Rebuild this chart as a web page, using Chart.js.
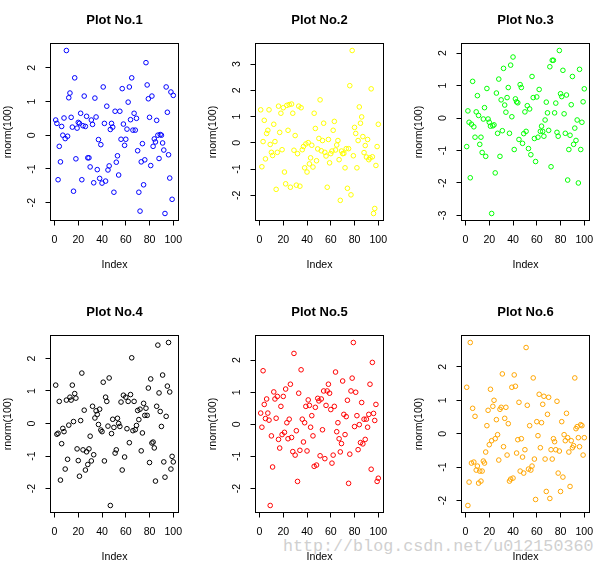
<!DOCTYPE html>
<html>
<head>
<meta charset="utf-8">
<script src="https://cdn.jsdelivr.net/npm/chart.js@4/dist/chart.umd.min.js"></script>
<style>
  body { margin: 0; width: 605px; height: 566px; overflow: hidden; background: #fff; position: relative; }
  canvas { position: absolute; }
  #mark { position: absolute; left: 283px; top: 538px; font: 16.7px "Liberation Mono"; line-height: 17px; color: #d0d0d0; white-space: nowrap; }
</style>
</head>
<body>
<div id="mark">http://blog.csdn.net/u012150360</div>
<script>
const titles = ["Plot No.1", "Plot No.2", "Plot No.3", "Plot No.4", "Plot No.5", "Plot No.6"];
const colors = ["#0000ff", "#ffff00", "#00ff00", "#000000", "#ff0000", "#ffa500"];
const xTicks = [0, 20, 40, 60, 80, 100];
const yTicks1 = [-2, -1, 0, 1, 2];
const yTicks2 = [-2, -1, 0, 1, 2, 3];
const yTicks3 = [-3, -2, -1, 0, 1, 2];
const yTicks4 = [-2, -1, 0, 1, 2];
const yTicks5 = [-2, -1, 0, 1, 2];
const yTicks6 = [-2, -1, 0, 1, 2];

// rnorm(100) values, in Index order
const plot1 = [0.45,0.35,-1.32,-0.33,-0.79,0.26,0.0,0.51,-0.10,2.51,
  -0.03,1.11,1.25,0.53,0.24,-1.66,1.70,-0.70,0.21,0.38,
  0.35,0.65,-1.32,0.28,1.16,0.26,0.56,-0.67,-0.67,-0.94,
  0.45,0.32,-1.41,1.10,0.54,-1.02,-0.13,-1.28,-0.28,-1.42,
  1.43,0.35,-1.36,0.86,-1.03,-0.91,0.17,0.35,0.24,-1.69,
  0.71,-0.80,-0.61,-1.18,0.71,-0.12,1.38,0.33,-0.30,-0.12,
  0.18,0.98,1.43,0.46,1.70,0.15,0.65,0.15,0.50,-0.46,
  -1.69,-2.25,-0.79,-0.25,-1.47,-0.73,2.15,1.49,1.08,0.53,
  -0.90,1.16,-0.33,-0.11,-0.20,0.44,0.0,-0.69,0.02,0.0,
  -0.23,-0.44,-2.32,1.43,0.68,-0.58,-1.27,1.28,-1.90,1.18];
const plot2 = [1.26,-0.91,0.05,0.86,-0.61,0.36,0.48,1.26,-0.06,-0.36,
  -0.48,0.71,0.05,-1.77,-0.36,1.40,0.40,1.13,-0.26,1.34,
  -1.11,-1.56,1.43,0.48,1.46,-1.69,1.48,1.13,-0.28,0.28,
  -1.61,-0.41,1.40,-1.65,1.34,-0.26,-0.14,-0.95,-0.04,-1.11,
  0.01,-0.80,-0.57,-0.09,-0.92,1.13,0.55,-0.68,-0.23,0.17,
  1.64,-0.30,0.09,0.75,-0.36,-0.50,-1.69,0.13,-0.76,-0.41,
  -0.31,0.48,0.82,-0.27,-0.08,0.09,-0.64,-2.19,-0.31,-0.41,
  -0.40,-0.95,-0.22,-1.73,-0.22,2.18,-1.98,3.52,-0.49,0.59,
  0.36,-0.95,0.09,1.37,0.75,0.99,0.24,-0.37,-0.10,-0.54,
  0.13,-0.64,-0.57,2.06,-0.53,-2.69,-2.50,-0.86,-0.14,0.71];
const plot3 = [-0.88,0.22,-0.13,-1.84,-0.19,1.13,-0.27,-0.59,0.19,0.69,
  0.08,-0.81,-0.59,-1.06,-0.03,0.32,-1.18,0.91,-0.03,-0.13,
  -0.25,-2.94,-0.24,-0.21,-1.69,0.77,-0.47,1.20,-1.18,0.56,
  -0.39,1.53,0.40,0.18,0.63,0.94,-0.47,1.63,0.04,1.88,
  -0.97,0.59,0.50,0.47,-0.66,1.03,0.94,-0.78,-0.48,0.19,
  -0.41,0.38,-0.94,0.28,-1.13,1.28,0.63,-0.63,-1.34,0.65,
  -0.59,0.88,-0.41,-0.25,-0.41,-0.56,-0.06,0.49,0.16,-0.38,
  1.58,-1.50,1.78,1.78,0.16,0.46,-0.44,-0.56,2.08,0.75,
  0.66,1.47,0.13,-0.47,0.71,-1.91,-0.97,-0.53,0.41,1.28,
  -0.81,-0.31,-0.69,-0.06,-2.00,1.50,-0.97,-0.13,0.50,0.90];
const plot4 = [1.18,-0.33,-0.30,0.68,-1.74,-0.62,-0.15,-0.25,-1.40,0.72,
  -1.10,-0.05,0.81,0.72,1.18,0.06,0.92,0.78,-0.78,-1.14,
  -1.62,0.09,1.55,-0.81,0.41,-1.43,-0.87,-1.26,-0.78,-0.39,
  -1.15,0.53,-0.96,0.17,0.39,0.28,-0.03,0.44,-0.20,-0.25,
  1.27,-1.15,0.81,0.68,-0.08,1.40,-2.52,-0.31,0.13,-0.12,
  -0.91,-0.81,0.16,0.00,-0.09,0.66,-1.43,0.87,-1.03,0.81,
  -0.16,0.68,-0.59,0.89,2.02,-0.22,0.68,-0.19,-0.06,0.40,
  0.12,0.44,-0.84,-0.29,0.62,0.25,0.47,0.25,1.09,-1.20,
  1.37,-0.60,-0.57,-0.75,-1.77,0.53,2.41,0.94,0.37,-0.09,
  1.49,-1.18,-1.65,0.22,1.15,2.49,0.97,-1.40,-1.01,-1.18];
const plot5 = [0.35,-0.09,1.67,0.62,0.18,0.79,0.35,0.13,-2.53,-0.36,
  -1.33,1.01,0.79,0.19,0.87,-0.47,-0.74,0.56,-0.32,0.87,
  -0.25,1.10,0.05,-0.45,0.16,1.25,-0.41,-0.85,2.21,-0.96,
  -0.20,-1.78,0.97,-0.81,1.70,0.16,-0.55,0.05,0.56,-0.83,
  0.76,0.59,-0.09,0.27,-0.36,-1.31,0.53,-1.27,0.81,0.73,
  -0.98,0.79,-0.17,1.04,-1.07,0.59,1.04,1.25,0.97,0.46,
  -1.21,-0.96,0.56,1.63,-0.23,0.05,-0.45,-0.86,-0.60,1.35,
  0.31,-0.32,0.24,0.75,-1.84,-0.93,1.04,1.44,2.55,-0.07,
  1.00,0.27,-0.79,-0.01,-0.57,0.68,-0.61,0.16,-0.47,0.16,
  -0.09,0.31,1.25,-1.40,1.93,0.34,0.12,0.62,-1.78,-1.68];
const plot6 = [1.39,-2.15,-1.45,2.73,-0.88,0.76,-0.85,0.52,-1.09,-0.97,
  -1.48,-1.12,-1.42,-1.12,-0.82,-0.88,-0.55,0.24,0.70,-0.33,
  1.33,-0.21,0.82,1.00,-0.15,0.42,-0.03,-0.79,0.73,0.79,
  1.79,-0.39,0.46,0.79,-0.64,0.30,-1.42,-1.36,1.39,-1.33,
  1.76,1.42,-0.58,-0.18,0.94,-1.12,-0.15,-0.70,-1.18,-0.48,
  2.58,0.85,-1.06,0.24,-1.09,-0.97,1.67,-0.76,-1.97,0.36,
  -0.06,1.18,-0.42,0.33,0.88,1.12,-0.76,-1.73,0.58,1.09,
  -1.94,-0.48,-0.76,-0.15,-0.24,-0.48,0.97,-1.18,-0.52,-1.73,
  0.36,-1.30,-0.03,-0.21,0.61,-0.12,-0.55,-1.58,-0.21,-0.42,
  -0.36,1.67,0.15,0.21,-0.12,-0.39,0.27,0.24,-0.64,-0.12];

const series = [plot1, plot2, plot3, plot4, plot5, plot6];
const yTicks = [yTicks1, yTicks2, yTicks3, yTicks4, yTicks5, yTicks6];
const index = plot1.map((_, i) => i + 1);

const panelLeft = [0, 205, 411];
const panelTop = [0, 292];
const FONT = "Liberation Sans";
const SMALL = 10.6;

Chart.defaults.font.family = FONT;
Chart.defaults.color = "#000";

// R style extension of the data range (4% each side)
function rRange(vals) {
  const lo = Math.min(...vals), hi = Math.max(...vals);
  const pad = (hi - lo) * 0.04;
  return [lo - pad, hi + pad];
}

// box around the plot region, like box() in R
const boxPlugin = {
  id: "rbox",
  afterDraw(chart) {
    const { ctx, chartArea: a } = chart;
    ctx.save();
    ctx.strokeStyle = "#000";
    ctx.lineWidth = 1;
    ctx.strokeRect(a.left - 0.5, a.top - 0.5, a.right - a.left + 1, a.bottom - a.top + 1);
    ctx.restore();
  }
};

series.forEach((vals, k) => {
  const canvas = document.createElement("canvas");
  canvas.width = 229;
  canvas.height = 292;
  canvas.style.left = panelLeft[k % 3] + "px";
  canvas.style.top = panelTop[Math.floor(k / 3)] + "px";
  document.body.appendChild(canvas);

  const [xlo, xhi] = rRange(index);
  const [ylo, yhi] = rRange(vals);
  const ticksY = yTicks[k];

  new Chart(canvas, {
    type: "scatter",
    data: {
      datasets: [{
        data: vals.map((v, i) => ({ x: index[i], y: v })),
        borderColor: colors[k],
        backgroundColor: "rgba(0,0,0,0)",
        pointRadius: 2.3,
        pointHoverRadius: 2.3,
        pointBorderWidth: 1
      }]
    },
    options: {
      responsive: false,
      animation: false,
      devicePixelRatio: 1,
      layout: { padding: 0 },
      plugins: {
        legend: { display: false },
        tooltip: { enabled: false },
        title: {
          display: true,
          text: titles[k],
          font: { size: 13, weight: "bold" },
          color: "#000",
          padding: { top: 13, bottom: 15.4 }
        }
      },
      scales: {
        x: {
          type: "linear",
          position: "bottom",
          min: xlo,
          max: xhi,
          afterBuildTicks: s => { s.ticks = xTicks.map(v => ({ value: v })); },
          afterFit: s => { s.height = 72; },
          ticks: { autoSkip: false, maxRotation: 0, padding: 8, font: { size: SMALL }, color: "#000" },
          grid: { display: true, drawOnChartArea: false, drawTicks: true, tickLength: 5.5, color: "#000", tickColor: "#000" },
          border: { display: false },
          title: { display: true, text: "Index", font: { size: SMALL }, color: "#000", padding: { top: 0, bottom: 20.6 } }
        },
        y: {
          type: "linear",
          position: "left",
          min: ylo,
          max: yhi,
          afterBuildTicks: s => { s.ticks = ticksY.map(v => ({ value: v })); },
          afterFit: s => { s.width = 51; },
          ticks: { autoSkip: false, minRotation: 90, maxRotation: 90, crossAlign: "center", padding: 9, font: { size: SMALL }, color: "#000" },
          grid: { display: true, drawOnChartArea: false, drawTicks: true, tickLength: 5.5, color: "#000", tickColor: "#000" },
          border: { display: false },
          title: { display: true, text: "rnorm(100)", font: { size: SMALL }, color: "#000", padding: { top: 2, bottom: 0 } }
        },
        yr: {
          type: "linear",
          position: "right",
          display: true,
          afterFit: s => { s.width = 51; },
          ticks: { display: false },
          grid: { display: false },
          border: { display: false }
        }
      }
    },
    plugins: [boxPlugin]
  });
});
</script>
</body>
</html>
